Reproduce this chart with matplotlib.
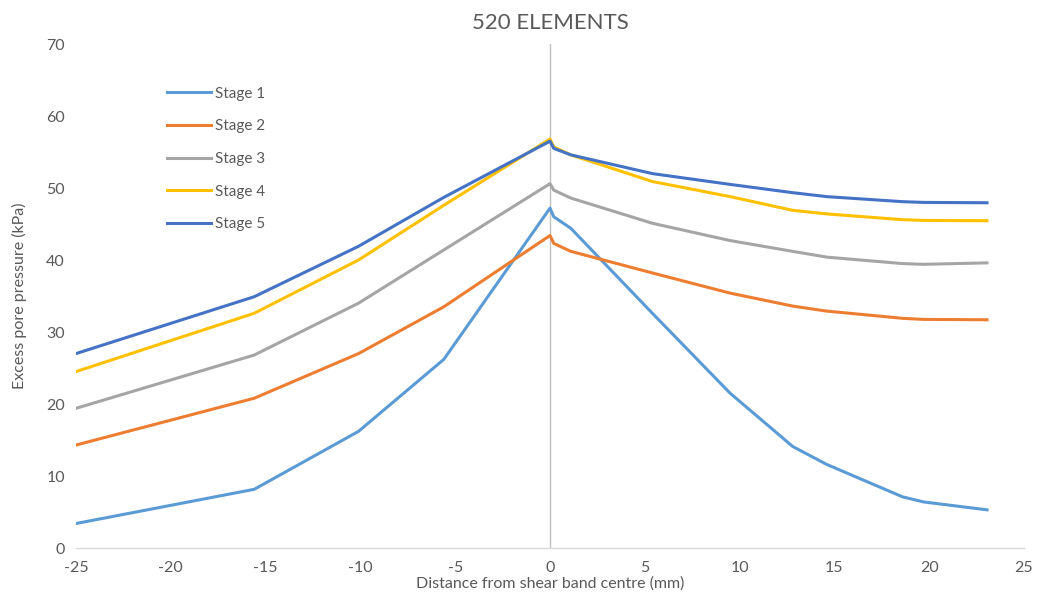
import matplotlib.pyplot as plt

# distance from shear band centre (mm), node positions
x = [-25, -15.6, -10.1, -5.6, 0, 0.2, 1.1, 5.4, 9.5, 12.8, 14.6, 18.6, 19.7, 23.05]

# excess pore pressure (kPa) for each stage
stage1 = [3.4, 8.15, 16.2, 26.2, 47.2, 46.0, 44.4, 32.6, 21.5, 14.1, 11.6, 7.1, 6.4, 5.3]
stage2 = [14.3, 20.8, 27.0, 33.5, 43.4, 42.3, 41.2, 38.2, 35.4, 33.6, 32.9, 31.9, 31.75, 31.7]
stage3 = [19.4, 26.8, 34.0, 41.4, 50.6, 49.7, 48.6, 45.1, 42.7, 41.2, 40.4, 39.5, 39.4, 39.6]
stage4 = [24.5, 32.6, 40.0, 47.6, 56.8, 55.7, 54.6, 50.9, 48.8, 46.9, 46.4, 45.6, 45.5, 45.45]
stage5 = [27.0, 34.9, 41.9, 48.7, 56.5, 55.5, 54.6, 52.0, 50.5, 49.35, 48.8, 48.1, 48.0, 47.95]

series = [stage1, stage2, stage3, stage4, stage5]
labels = ['Stage 1', 'Stage 2', 'Stage 3', 'Stage 4', 'Stage 5']
colores = ['#5B9BD5', '#ED7D31', '#A5A5A5', '#FFC000', '#4472C4']

plt.rcParams['font.family'] = ['Lato', 'DejaVu Sans']
plt.rcParams['axes.unicode_minus'] = False
gris = '#595959'

fig = plt.figure(figsize=(10.39, 6.04), dpi=100)
ax = fig.add_axes([76/1039, 1-548/604, (1024-76)/1039, (548-44)/604])

for s, lab, c in zip(series, labels, colores):
    ax.plot(x, s, color=c, lw=2.2, label=lab, solid_joinstyle='round')

ax.set_xlim(-25, 25)
ax.set_ylim(0, 70)
ax.set_xticks(range(-25, 26, 5))
ax.set_yticks(range(0, 71, 10))

# ejes tipo excel: linea vertical en x=0 y base en y=0
for sp in ['top', 'right', 'left']:
    ax.spines[sp].set_visible(False)
ax.spines['bottom'].set_color('#D9D9D9')
ax.spines['bottom'].set_linewidth(1.0)
ax.axvline(0, color='#BFBFBF', lw=1.0, zorder=0)
ax.tick_params(length=0, labelsize=11.5, colors=gris, pad=8)
ax.tick_params(axis='x', pad=9)

ax.set_title('520 ELEMENTS', fontsize=16, color=gris, pad=11)
ax.set_xlabel('Distance from shear band centre (mm)', fontsize=11.5, color=gris, labelpad=1)
ax.set_ylabel('Excess pore pressure (kPa)', fontsize=11.5, color=gris, labelpad=14)

ax.legend(loc='upper left', bbox_to_anchor=(153/1039, 1-73/604), bbox_transform=fig.transFigure,
          frameon=False, fontsize=11, labelspacing=1.22, handlelength=2.9,
          handletextpad=0.25, labelcolor=gris)

fig.savefig('out.png', dpi=100)
